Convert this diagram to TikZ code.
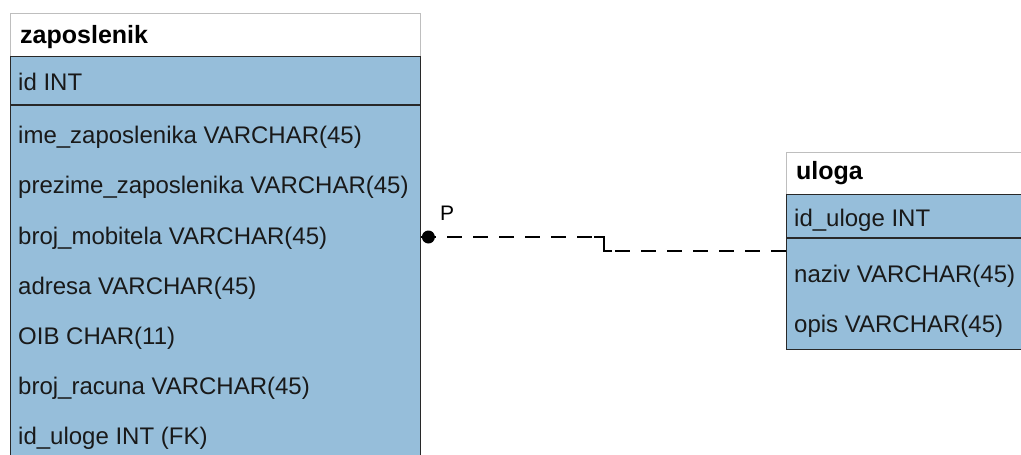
\documentclass[tikz,border=0pt]{standalone}
\usepackage{fontspec}
\setmainfont{Liberation Sans}
\definecolor{tblue}{RGB}{150,190,218}
\definecolor{tgray}{RGB}{190,190,190}
\definecolor{tline}{RGB}{40,40,40}
\begin{document}
\begin{tikzpicture}[x=1pt,y=-1pt,
  titlebox/.style={draw=tgray,fill=white,line width=1.4pt,anchor=north west,inner sep=0pt},
  bodybox/.style={draw=tline,fill=tblue,line width=1.4pt,anchor=north west,inner sep=0pt},
  sepline/.style={draw=tline,line width=1.4pt},
  ttl/.style={anchor=west,inner sep=0pt,font=\fontsize{25}{28}\selectfont\bfseries},
  fld/.style={anchor=west,inner sep=0pt,font=\fontsize{24}{28}\selectfont,text=black!90},
  conn/.style={line width=1.6pt,dash pattern=on 15pt off 11pt}]
\clip (0,0) rectangle (1021,455);
\fill[white] (0,0) rectangle (1021,455);
% left table
\node[titlebox,minimum width=410pt,minimum height=43pt] (zapT) at (10,13) {};
\node[bodybox,minimum width=410pt,minimum height=440pt] (zapB) at (10,56) {};
\draw[sepline] (10,105) -- (420,105);
\node[ttl] (zt) at (20,37) {zaposlenik};
\node[fld] (z1) at (18,82) {id INT};
\node[fld] (z2) at (18,137) {ime\_zaposlenika VARCHAR(45)};
\node[fld] (z3) at (18,187) {prezime\_zaposlenika VARCHAR(45)};
\node[fld] (z4) at (18,238) {broj\_mobitela VARCHAR(45)};
\node[fld] (z5) at (18,288) {adresa VARCHAR(45)};
\node[fld] (z6) at (18,338) {OIB CHAR(11)};
\node[fld] (z7) at (18,388) {broj\_racuna VARCHAR(45)};
\node[fld] (z8) at (18,438) {id\_uloge INT (FK)};
% right table
\node[titlebox,minimum width=260pt,minimum height=42pt] (ulT) at (786,152) {};
\node[bodybox,minimum width=260pt,minimum height=155pt] (ulB) at (786,194) {};
\draw[sepline] (786,238) -- (1050,238);
\node[ttl] (ut) at (796,173) {uloga};
\node[fld] (u1) at (794,220) {id\_uloge INT};
\node[fld] (u2) at (794,276) {naziv VARCHAR(45)};
\node[fld] (u3) at (794,326) {opis VARCHAR(45)};
% connector
\coordinate (fk) at (zapB.east |- 0,237);
\coordinate (pk) at (ulB.west |- 0,251);
\draw[conn] (fk) -- (604,237) -- (604,251) -- (pk);
\draw[line width=1.6pt] (594,237) -- (604,237) -- (604,251) -- (612,251);
\fill[black] (fk) ++(7,0) circle (6.5pt);
\node[anchor=south west,inner sep=0pt,font=\fontsize{21}{23}\selectfont] (P) at (440,221) {P};
\end{tikzpicture}
\end{document}
